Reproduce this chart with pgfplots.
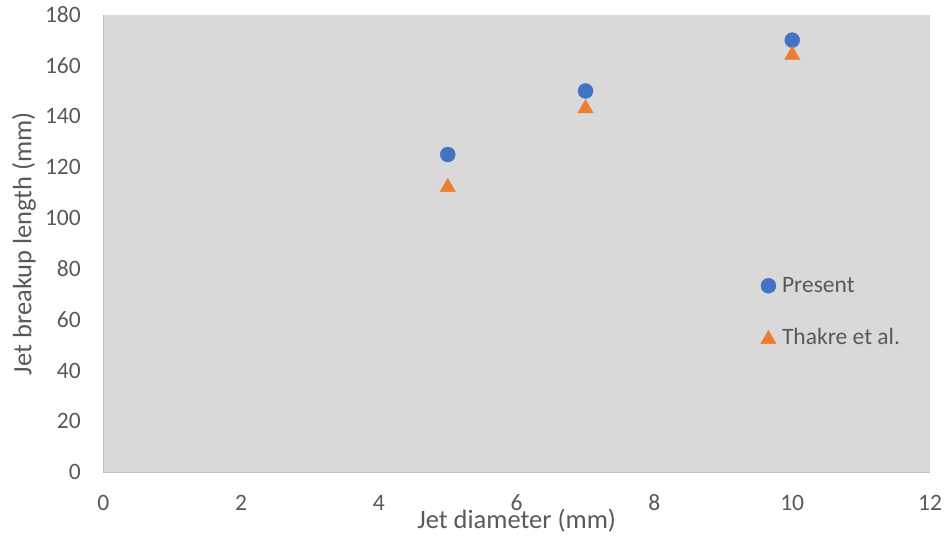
\documentclass[border=0pt]{standalone}
\usepackage{fontspec}
\setmainfont{Carlito}
\usepackage{pgfplots}
\pgfplotsset{compat=1.18}

\definecolor{plotbg}{HTML}{D9D9D9}
\definecolor{axisgray}{HTML}{BFBFBF}
\definecolor{txtgray}{HTML}{595959}
\definecolor{pblue}{HTML}{4472C4}
\definecolor{porange}{HTML}{ED7D31}

\begin{document}
\begin{tikzpicture}
\begin{axis}[
  scale only axis,
  width=826.7pt, height=457.6pt,
  xmin=0, xmax=12, ymin=0, ymax=180,
  xtick={0,2,4,6,8,10,12},
  ytick={0,20,...,180},
  axis background/.style={fill=plotbg},
  axis x line*=bottom, axis y line*=left,
  axis line style={draw=axisgray, line width=1.5pt},
  major tick length=0pt,
  tick style={draw=none},
  /pgf/number format/assume math mode=true,
  tick label style={font=\fontsize{23.5}{28}\selectfont, text=txtgray, inner sep=0pt},
  xticklabel style={anchor=base, yshift=-38pt},
  yticklabel style={anchor=east, xshift=-22.3pt},
  xlabel={Jet diameter (mm)},
  ylabel={Jet breakup length (mm)},
  label style={font=\fontsize{26.5}{32}\selectfont, text=txtgray, inner sep=0pt},
  xlabel style={at={(axis description cs:0.5,-0.1230)}, anchor=base},
  ylabel style={at={(axis description cs:-0.0871,0.5)}, anchor=base},
  legend style={at={(axis cs:9.544,76.63)}, anchor=north west,
    draw=none, fill=none, inner sep=0pt, outer sep=0pt,
    font=\fontsize{23.5}{28}\selectfont, text=txtgray,
    row sep=34pt,
    nodes={inner sep=0pt, outer sep=0pt},
    /tikz/every odd column/.append style={column sep=6pt}},
  legend cell align=left,
  legend image code/.code={\draw[#1] plot coordinates {(0pt,0pt)};},
]
\coordinate (bl) at (rel axis cs:0,0);
\coordinate (tr) at (rel axis cs:1,1);

% measured breakup lengths
\addplot[only marks, mark=*, mark size=7.5pt,
  mark options={fill=pblue, draw=pblue, line width=0.4pt}]
  coordinates {(5,125) (7,150) (10,170)};
\addlegendentry{Present}

% reference data
\addplot[only marks, mark=triangle*, mark size=8.8pt,
  mark options={fill=porange, draw=porange, line width=0.4pt, yshift=-2.2pt}]
  coordinates {(5,113) (7,144) (10,165)};
\addlegendentry{Thakre et al.}
\end{axis}
\pgfresetboundingbox
\path ([xshift=-103.3pt,yshift=-64.7pt]bl) rectangle ([xshift=17pt,yshift=14.7pt]tr);
\end{tikzpicture}
\end{document}
